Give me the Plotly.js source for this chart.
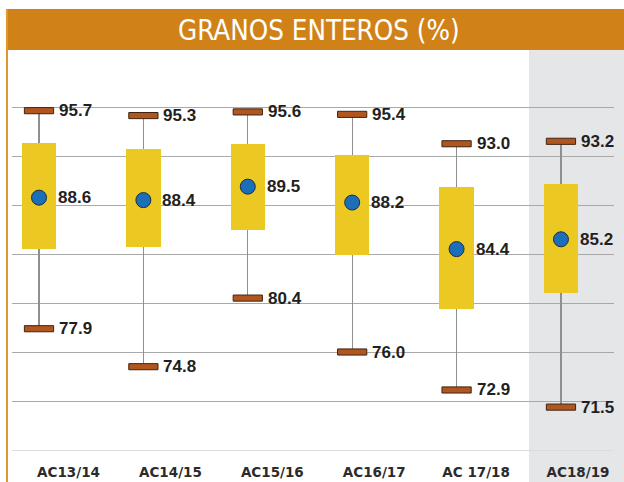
<!DOCTYPE html>
<html>
<head>
<meta charset="utf-8">
<script src="https://cdn.plot.ly/plotly-3.0.1.min.js"></script>
<style>html,body{margin:0;padding:0;background:#fff;}#chart{width:624px;height:482px;}</style>
</head>
<body>
<div id="chart"></div>
<script>
// Data
var categories = ['AC13/14', 'AC14/15', 'AC15/16', 'AC16/17', 'AC 17/18', 'AC18/19'];
var maxVals  = [95.7, 95.3, 95.6, 95.4, 93.0, 93.2];
var minVals  = [77.9, 74.8, 80.4, 76.0, 72.9, 71.5];
var meanVals = [88.6, 88.4, 89.5, 88.2, 84.4, 85.2];
var q3Vals   = [93.1, 92.6, 93.0, 92.1, 89.5, 89.7];
var q1Vals   = [84.4, 84.6, 86.0, 83.9, 79.5, 80.8];
var titleText = 'GRANOS ENTEROS (%)';

var capH = 0.5; // cap thickness in axis units

var whisker = {
  type: 'bar', x: categories,
  base: minVals, y: maxVals.map(function (v, i) { return v - minVals[i]; }),
  width: 0.011, marker: { color: '#8f8f8f', line: { width: 0 } },
  hoverinfo: 'skip', showlegend: false
};
var boxes = {
  type: 'bar', x: categories,
  base: q1Vals, y: q3Vals.map(function (v, i) { return v - q1Vals[i]; }),
  width: 0.33, marker: { color: '#ecc823', line: { width: 0 } },
  hoverinfo: 'skip', showlegend: false
};
var capsTop = {
  type: 'bar', x: categories,
  base: maxVals.map(function (v) { return v - capH / 2; }),
  y: maxVals.map(function () { return capH; }),
  width: 0.28, marker: { color: '#b2561f', line: { color: '#3d2412', width: 1 } },
  hoverinfo: 'skip', showlegend: false
};
var capsBottom = {
  type: 'bar', x: categories,
  base: minVals.map(function (v) { return v - capH / 2; }),
  y: minVals.map(function () { return capH; }),
  width: 0.28, marker: { color: '#b2561f', line: { color: '#3d2412', width: 1 } },
  hoverinfo: 'skip', showlegend: false
};
var means = {
  type: 'scatter', mode: 'markers', x: categories, y: meanVals,
  marker: { size: 15, color: '#1b6fb8', line: { color: '#1c2c44', width: 1 } },
  hoverinfo: 'skip', showlegend: false
};
var labelAxisTrace = {
  type: 'scatter', mode: 'markers', x: categories, y: meanVals,
  xaxis: 'x2', yaxis: 'y', marker: { opacity: 0 }, hoverinfo: 'skip', showlegend: false
};

var valueFont = { family: 'Liberation Sans, Arial, sans-serif', size: 17, color: '#231f20', weight: 700 };
var annotations = [];
function addLabels(vals, shift) {
  vals.forEach(function (v, i) {
    annotations.push({
      x: categories[i], y: v, xref: 'x', yref: 'y',
      text: v.toFixed(1), showarrow: false, xanchor: 'left', yanchor: 'middle',
      xshift: shift, font: valueFont
    });
  });
}
addLabels(maxVals, 18);
addLabels(minVals, 18);
addLabels(meanVals, 17);

var yGrid = [];
for (var g = 72; g <= 100; g += 4) yGrid.push(g);

var layout = {
  width: 624, height: 482,
  margin: { l: 12, r: 10, t: 58, b: 32, pad: 0 },
  paper_bgcolor: '#ffffff', plot_bgcolor: 'rgba(0,0,0,0)',
  barmode: 'overlay', bargap: 0,
  showlegend: false,
  title: {
    text: titleText, x: 0.511, xanchor: 'center', xref: 'container',
    y: 0.938, yanchor: 'middle', yref: 'container',
    font: { family: 'Liberation Sans Narrow, DejaVu Sans Condensed, sans-serif', size: 27.5, color: '#ffffff', weight: 400 }
  },
  xaxis: {
    type: 'category', range: [-0.2586, 5.508], showticklabels: false,
    showgrid: false, zeroline: false, ticks: '',
    showline: true, linecolor: '#dcdcdc', linewidth: 1, fixedrange: true
  },
  xaxis2: {
    type: 'category', overlaying: 'x', anchor: 'y', side: 'bottom',
    range: [-0.5545, 5.353], showgrid: false, zeroline: false, showline: false, ticks: '',
    tickfont: { family: 'DejaVu Sans, sans-serif', size: 13.5, color: '#2b2b2b', weight: 700 },
    ticklabelstandoff: 12, fixedrange: true
  },
  yaxis: {
    range: [68, 100], tickmode: 'array', tickvals: yGrid, showticklabels: false,
    showgrid: true, gridcolor: '#a9a9a9', gridwidth: 1, zeroline: false, showline: false,
    ticks: '', fixedrange: true
  },
  shapes: [
    { type: 'rect', xref: 'paper', yref: 'paper', layer: 'below',
      x0: 0.8588, x1: 1.03, y0: -0.1, y1: 1.0204,
      fillcolor: '#e5e6e8', line: { width: 0 } },
    { type: 'rect', xref: 'paper', yref: 'paper', layer: 'below',
      x0: -0.0100, x1: 1.03, y0: 1.0204, y1: 1.125,
      fillcolor: '#d08219', line: { width: 0 } },
    { type: 'line', xref: 'paper', yref: 'paper', layer: 'below',
      x0: -0.0083, x1: -0.0083, y0: -0.1, y1: 1.125,
      line: { color: '#e0982c', width: 2 } }
  ],
  annotations: annotations
};

Plotly.newPlot('chart', [whisker, boxes, capsTop, capsBottom, means, labelAxisTrace], layout,
  { displayModeBar: false, staticPlot: true });
</script>
</body>
</html>
